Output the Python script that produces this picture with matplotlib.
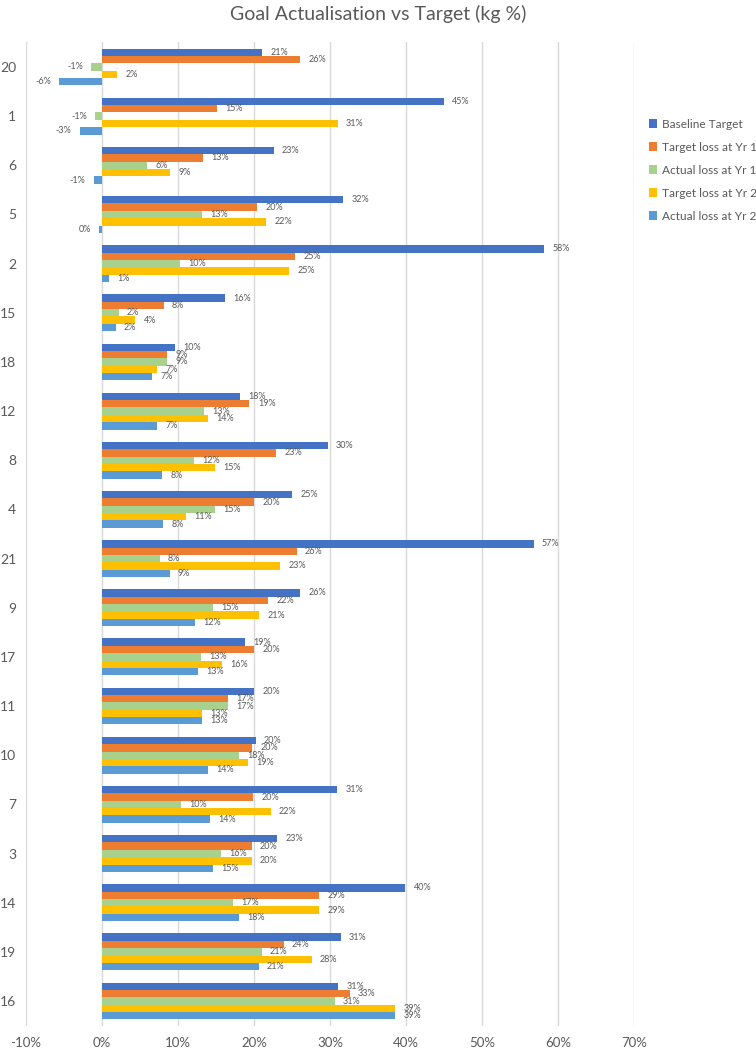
import matplotlib
matplotlib.use("Agg")
import matplotlib.pyplot as plt
from matplotlib.patches import Patch
import numpy as np

plt.rcParams['font.family'] = ['Lato', 'DejaVu Sans']

categories = ["20", "1", "6", "5", "2", "15", "18", "12", "8", "4", "21", "9",
              "17", "11", "10", "7", "3", "14", "19", "16"]
series_names = ["Baseline Target", "Target loss at Yr 1", "Actual loss at Yr 1",
                "Target loss at Yr 2", "Actual loss at Yr 2"]
baseline_target = [21.1, 45.0, 22.6, 31.7, 58.2, 16.2, 9.6, 18.2, 29.7, 25.0, 56.8, 26.1,
                   18.8, 20.0, 20.2, 30.9, 23.0, 39.9, 31.4, 31.1]
target_yr1 = [26.1, 15.1, 13.3, 20.4, 25.4, 8.1, 8.6, 19.4, 22.9, 20.0, 25.6, 21.9,
              20.0, 16.6, 19.8, 19.9, 19.7, 28.6, 23.9, 32.6]
actual_yr1 = [-1.4, -0.9, 5.9, 13.2, 10.3, 2.2, 8.6, 13.4, 12.1, 14.9, 7.6, 14.6,
              13.0, 16.6, 18.0, 10.4, 15.6, 17.2, 21.0, 30.6]
target_yr2 = [2.0, 31.0, 9.0, 21.6, 24.6, 4.4, 7.2, 14.0, 14.9, 11.0, 23.4, 20.7,
              15.8, 13.1, 19.2, 22.2, 19.7, 28.6, 27.6, 38.6]
actual_yr2 = [-5.6, -2.9, -1.1, -0.4, 0.9, 1.8, 6.6, 7.3, 7.9, 8.0, 8.9, 12.2,
              12.6, 13.1, 13.9, 14.2, 14.6, 18.0, 20.6, 38.6]
x_ticks = [-10, 0, 10, 20, 30, 40, 50, 60, 70]

colors = ["#4472C4", "#ED7D31", "#A9D18E", "#FFC000", "#5B9BD5"]
all_series = [baseline_target, target_yr1, actual_yr1, target_yr2, actual_yr2]
text_color = "#595959"

fig = plt.figure(figsize=(7.56, 10.52), dpi=100)
ax = fig.add_axes([26 / 756, 1 - 1025.6 / 1052, (634 - 26) / 756, (1025.6 - 42.4) / 1052])

y = np.arange(len(categories))
h = 0.15
for j, (vals, col, name) in enumerate(zip(all_series, colors, series_names)):
    bars = ax.barh(y + (j - 2) * h, vals, height=h, color=col, label=name, zorder=3)
    ax.bar_label(bars, labels=[f"{int(round(v))}%" for v in vals], padding=6,
                 fontsize=6.5, color=text_color)

ax.set_xlim(-10, 70)
ax.set_ylim(len(categories) - 0.5, -0.5)
ax.set_xticks(x_ticks)
ax.set_xticklabels([f"{t}%" for t in x_ticks], fontsize=9.5, color=text_color)
ax.set_yticks(y)
ax.set_yticklabels(categories, fontsize=10, color=text_color)
ax.tick_params(axis='both', length=0)
ax.tick_params(axis='y', pad=7)
ax.tick_params(axis='x', pad=8)
ax.grid(axis='x', color="#D9D9D9", linewidth=1, zorder=0)
for s in ax.spines.values():
    s.set_visible(False)

fig.text(0.5, 1 - 14 / 1052, "Goal Actualisation vs Target (kg %)", ha='center', va='center',
         fontsize=14, color=text_color)

handles = [Patch(facecolor=c, edgecolor='none') for c in colors]
fig.legend(handles, series_names, loc='upper left', bbox_to_anchor=(644 / 756, 1 - 114 / 1052),
           frameon=False, fontsize=8.6, handlelength=0.7, handleheight=0.7, handletextpad=0.4,
           labelspacing=1.0, labelcolor=text_color, borderaxespad=0)

fig.savefig("out.png", dpi=100)
